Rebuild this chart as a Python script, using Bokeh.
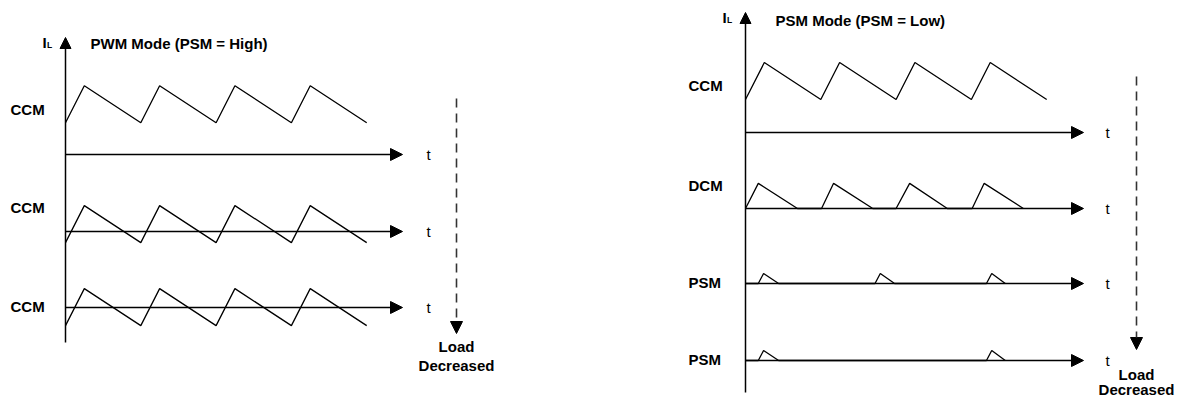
from bokeh.plotting import figure
from bokeh.layouts import row
from bokeh.models import Range1d, Arrow, NormalHead
from bokeh.core.properties import value
from bokeh.embed import file_html
from bokeh.resources import INLINE

# ---------------- data (time in switching periods, current in ripple units) ----------------
titles = ["PWM Mode (PSM = High)", "PSM Mode (PSM = Low)"]
left_labels = ["CCM", "CCM", "CCM"]
right_labels = ["CCM", "DCM", "PSM", "PSM"]
axis_label_t = "t"
load_text = ["Load", "Decreased"]

ccm_t = [0.0, 0.25, 1.0, 1.25, 2.0, 2.25, 3.0, 3.25, 4.0]
pwm_ccm1_i = [0.86, 1.86, 0.86, 1.86, 0.86, 1.86, 0.86, 1.86, 0.86]
pwm_ccm2_i = [-0.30, 0.70, -0.30, 0.70, -0.30, 0.70, -0.30, 0.70, -0.30]
pwm_ccm3_i = [-0.49, 0.51, -0.49, 0.51, -0.49, 0.51, -0.49, 0.51, -0.49]

psm_ccm_i = [0.89, 1.89, 0.89, 1.89, 0.89, 1.89, 0.89, 1.89, 0.89]
dcm_t = [0.0, 0.17, 0.69, 1.01, 1.17, 1.69, 2.0, 2.18, 2.68, 3.01, 3.17, 3.69]
dcm_i = [0.0, 0.68, 0.0, 0.0, 0.68, 0.0, 0.0, 0.68, 0.0, 0.0, 0.68, 0.0]
psm1_t = [0.0, 0.17, 0.24, 0.44, 1.72, 1.79, 1.98, 3.20, 3.27, 3.45]
psm1_i = [0.0, 0.0, 0.27, 0.0, 0.0, 0.27, 0.0, 0.0, 0.27, 0.0]
psm2_t = [0.0, 0.17, 0.24, 0.44, 3.20, 3.27, 3.45]
psm2_i = [0.0, 0.0, 0.27, 0.0, 0.0, 0.27, 0.0]

# ---------------- layout constants (screen pixels) ----------------
PX_T = 75.3      # px per switching period
PX_I = 37.0      # px per ripple unit
TOP = 0
FIG_H = 401
BOTTOM = TOP + FIG_H
FONT = "Liberation Sans"
BOLD_SIZE = "15px"


def make_panel(width, sx0, ox, title, title_pos, il_pos, axis_span, rows, label_sx,
               arrow_tip_sx, t_label_sx, dash_sx, dash_span, load_sy):
    X = lambda sx: (sx - ox) / PX_T
    Y = lambda sy: (BOTTOM - sy) / PX_I
    p = figure(width=width, height=FIG_H,
               x_range=Range1d(X(sx0), X(sx0 + width)),
               y_range=Range1d(0, FIG_H / PX_I),
               x_axis_type=None, y_axis_type=None,
               output_backend="svg", toolbar_location=None, min_border=0)
    p.grid.visible = False
    p.outline_line_color = None
    p.background_fill_color = "white"
    p.border_fill_color = "white"

    # vertical current axis
    p.add_layout(Arrow(end=NormalHead(size=11, fill_color="black", line_color="black", line_width=1),
                       x_start=0, y_start=Y(axis_span[0]), x_end=0, y_end=Y(axis_span[1]),
                       line_width=1.5, line_color="black"))
    # I_L
    p.text(x=[X(il_pos[0])], y=[Y(il_pos[1])], text=["I"], text_font=value(FONT),
           text_font_style="bold", text_font_size=BOLD_SIZE, text_baseline="middle",
           text_align="left", text_color="black")
    p.text(x=[X(il_pos[0] + 4.5)], y=[Y(il_pos[1] + 2.5)], text=["L"], text_font=value(FONT),
           text_font_style="bold", text_font_size="8.5px", text_baseline="middle",
           text_align="left", text_color="black")
    # title
    p.text(x=[X(title_pos[0])], y=[Y(title_pos[1])], text=[title], text_font=value(FONT),
           text_font_style="bold", text_font_size=BOLD_SIZE, text_baseline="middle",
           text_align="left", text_color="black")

    for base_sy, t, i, lab, lab_sy in rows:
        base = Y(base_sy)
        # time axis
        p.add_layout(Arrow(end=NormalHead(size=12, fill_color="black", line_color="black", line_width=1),
                           x_start=0, y_start=base, x_end=X(arrow_tip_sx), y_end=base,
                           line_width=1.5, line_color="black"))
        p.line(x=t, y=[base + v for v in i], line_color="black", line_width=1.3)
        p.text(x=[X(label_sx)], y=[Y(lab_sy)], text=[lab], text_font=value(FONT),
               text_font_style="bold", text_font_size=BOLD_SIZE, text_baseline="middle",
               text_align="left", text_color="black")
        p.text(x=[X(t_label_sx)], y=[base], text=[axis_label_t], text_font=value(FONT),
               text_font_size="15px", text_baseline="middle", text_align="center",
               text_color="black")

    # load decreased dashed arrow
    p.add_layout(Arrow(end=NormalHead(size=12, fill_color="black", line_color="black", line_width=1),
                       x_start=X(dash_sx), y_start=Y(dash_span[0]), x_end=X(dash_sx), y_end=Y(dash_span[1]),
                       line_width=1.6, line_color="#333333", line_dash="9 6"))
    p.text(x=[X(dash_sx), X(dash_sx)], y=[Y(load_sy[0]), Y(load_sy[1])], text=load_text,
           text_font=value(FONT), text_font_style="bold", text_font_size=BOLD_SIZE,
           text_baseline="middle", text_align="center", text_color="black")
    return p


left = make_panel(
    width=588, sx0=0, ox=65, title=titles[0], title_pos=(90, 43), il_pos=(42, 42),
    axis_span=(342, 37),
    rows=[(154, ccm_t, pwm_ccm1_i, left_labels[0], 109),
          (231, ccm_t, pwm_ccm2_i, left_labels[1], 207),
          (307, ccm_t, pwm_ccm3_i, left_labels[2], 306)],
    label_sx=10, arrow_tip_sx=402, t_label_sx=428, dash_sx=456, dash_span=(98, 333),
    load_sy=(346, 365))

right = make_panel(
    width=593, sx0=588, ox=745, title=titles[1], title_pos=(775, 20), il_pos=(722, 17),
    axis_span=(392, 12),
    rows=[(132, ccm_t, psm_ccm_i, right_labels[0], 85),
          (208, dcm_t, dcm_i, right_labels[1], 185),
          (283, psm1_t, psm1_i, right_labels[2], 282),
          (360, psm2_t, psm2_i, right_labels[3], 359)],
    label_sx=688, arrow_tip_sx=1083, t_label_sx=1107, dash_sx=1136, dash_span=(76, 349),
    load_sy=(374, 389))

layout = row(left, right, spacing=0)
open("out.html", "w").write(file_html(layout, INLINE))
